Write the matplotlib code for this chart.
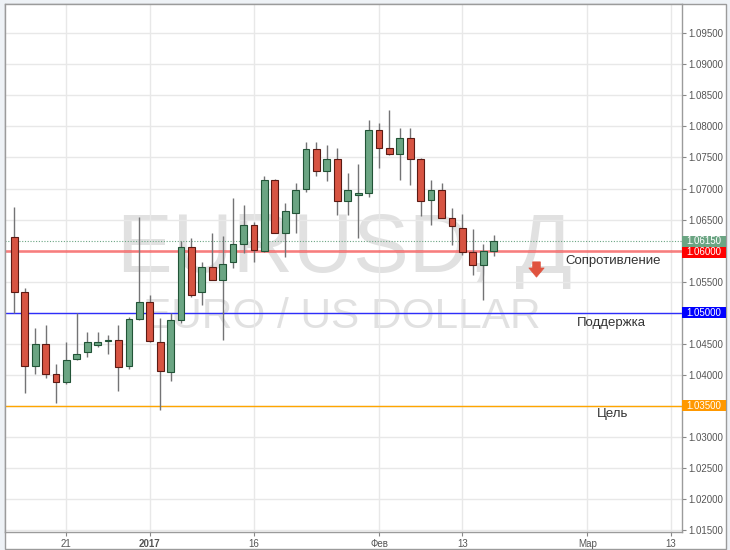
import numpy as np
import pandas as pd
import matplotlib
matplotlib.use("Agg")
import matplotlib.pyplot as plt
from matplotlib.patches import Rectangle
from matplotlib.path import Path
import matplotlib.transforms as mtransforms

plt.rcParams['font.family'] = ['Liberation Sans', 'DejaVu Sans']

# EURUSD daily candles, 14 Dec 2016 .. 16 Feb 2017
opens = [1.0622, 1.0533, 1.0414, 1.0449, 1.0402, 1.0388, 1.0425, 1.0436, 1.0448, 1.0454,
         1.0456, 1.0414, 1.0490, 1.0517, 1.0452, 1.0405, 1.0488, 1.0605, 1.0533, 1.0573,
         1.0552, 1.0581, 1.0611, 1.0642, 1.0600, 1.0713, 1.0629, 1.0661, 1.0700, 1.0763,
         1.0729, 1.0747, 1.0680, 1.0689, 1.0692, 1.0795, 1.0766, 1.0755, 1.0782, 1.0748,
         1.0681, 1.0697, 1.0653, 1.0637, 1.0597, 1.0577, 1.0600]
highs = [1.0670, 1.0539, 1.0475, 1.0480, 1.0418, 1.0452, 1.0499, 1.0469, 1.0469, 1.0464,
         1.0480, 1.0493, 1.0654, 1.0529, 1.0491, 1.0500, 1.0616, 1.0621, 1.0582, 1.0628,
         1.0623, 1.0685, 1.0673, 1.0646, 1.0720, 1.0716, 1.0677, 1.0709, 1.0775, 1.0775,
         1.0770, 1.0765, 1.0725, 1.0740, 1.0811, 1.0806, 1.0827, 1.0798, 1.0798, 1.0749,
         1.0713, 1.0709, 1.0668, 1.0659, 1.0634, 1.0610, 1.0625]
lows = [1.0499, 1.0370, 1.0402, 1.0394, 1.0355, 1.0385, 1.0424, 1.0429, 1.0444, 1.0434,
        1.0374, 1.0410, 1.0488, 1.0452, 1.0343, 1.0390, 1.0483, 1.0525, 1.0512, 1.0552,
        1.0456, 1.0572, 1.0596, 1.0582, 1.0598, 1.0628, 1.0590, 1.0628, 1.0695, 1.0720,
        1.0712, 1.0658, 1.0658, 1.0620, 1.0686, 1.0733, 1.0754, 1.0713, 1.0705, 1.0655,
        1.0641, 1.0652, 1.0609, 1.0593, 1.0560, 1.0521, 1.0592]
closes = [1.0533, 1.0414, 1.0449, 1.0402, 1.0389, 1.0424, 1.0434, 1.0453, 1.0453, 1.0456,
          1.0413, 1.0490, 1.0517, 1.0454, 1.0406, 1.0488, 1.0605, 1.0528, 1.0574, 1.0553,
          1.0579, 1.0611, 1.0642, 1.0601, 1.0713, 1.0629, 1.0664, 1.0698, 1.0763, 1.0729,
          1.0747, 1.0680, 1.0697, 1.0692, 1.0795, 1.0766, 1.0756, 1.0782, 1.0748, 1.0680,
          1.0697, 1.0653, 1.0640, 1.0597, 1.0577, 1.0600, 1.0615]

tick_dates = ['2016-12-21', '2017-01-02', '2017-01-16', '2017-02-01', '2017-02-13', '2017-03-01', '2017-03-13']
tick_labels = ['21', '2017', '16', 'Фев', '13', 'Мар', '13']

resistance = 1.0600
support = 1.0500
target = 1.0350
last_price = closes[-1]

up_fill, up_edge = '#6ba583', '#225437'
dn_fill, dn_edge = '#d75442', '#5b1a13'

days = pd.bdate_range('2016-12-14', '2017-03-13')
x = np.arange(len(opens))
o = np.array(opens); h = np.array(highs); l = np.array(lows); c = np.array(closes)
up = c >= o

fig = plt.figure(figsize=(7.3, 5.5), dpi=100, facecolor='#eef2f6')
fig.patches.append(Rectangle((5/730, 1-549/550), 721/730, 545/550, transform=fig.transFigure,
                             facecolor='white', edgecolor='#9b9b9b', lw=1, zorder=-10))
ax = fig.add_axes([5/730, 1-532/550, 676.7/730, 528/550])
ax.set_facecolor('white')

# watermark
ax.text(0.502, 0.492, 'EURUSD, Д', transform=ax.transAxes, ha='center', va='baseline',
        fontsize=60, color='#e1e1e1', zorder=0.5)
ax.text(0.498, 0.386, 'EURO / US DOLLAR', transform=ax.transAxes, ha='center', va='baseline',
        fontsize=30.5, color='#e1e1e1', zorder=0.5)

# levels
ax.axhline(resistance, color='#ff0000', alpha=0.45, lw=2, zorder=1.5)
ax.axhline(support, color='#0000ff', alpha=0.8, lw=1, zorder=1.5)
ax.axhline(target, color='#ffa500', lw=1, zorder=1.5)
ax.axhline(last_price, color=up_fill, lw=0.8, ls=(0, (1, 1.5)), zorder=1.5)

# candles
ax.vlines(x, l, h, color='#737375', lw=1, zorder=2)
body_h = np.maximum(np.abs(c - o), 0.00008)
ax.bar(x, body_h, bottom=np.minimum(o, c), width=0.65,
       color=np.where(up, up_fill, dn_fill), edgecolor=np.where(up, up_edge, dn_edge),
       lw=0.8, zorder=3)

# labels for levels
ax.text(57.45, 1.0584, 'Сопротивление', ha='center', va='center', fontsize=9.5, color='#333333')
ax.text(57.27, 1.0484, 'Поддержка', ha='center', va='center', fontsize=9.5, color='#333333')
ax.text(57.45, 1.0336, 'Цель', ha='center', va='center', fontsize=9.5, color='#333333')

arrow = Path([(-0.5, 1.0), (0.5, 1.0), (0.5, 0.2), (1.0, 0.2), (0.0, -1.0),
              (-1.0, 0.2), (-0.5, 0.2), (-0.5, 1.0)], closed=True)
ax.plot([50.07], [1.0570], marker=arrow, markersize=11, color='#e0533f', mec='#e0533f',
        mew=0.5, zorder=4)

# axes
ax.set_xlim(-0.89, 64.05)
ax.set_ylim(1.01467, 1.09972)
ax.yaxis.tick_right()
yt = np.arange(1.015, 1.0951, 0.005)
levels = [resistance, support, target]
ax.set_yticks(yt)
ax.set_yticklabels(['' if any(abs(v - lv) < 1e-6 for lv in levels) else '%.5f' % v for v in yt])
pos = [days.get_loc(pd.Timestamp(d)) for d in tick_dates]
ax.set_xticks(pos)
ax.set_xticklabels(tick_labels)
ax.get_xticklabels()[1].set_fontweight('bold')
ax.tick_params(axis='both', length=3, color='#888888', labelcolor='#555555', labelsize=7, pad=2)
ax.grid(True, color='#e8e8e8', lw=1, zorder=0)
ax.set_axisbelow(True)
for s in ax.spines.values():
    s.set_color('#9b9b9b')
    s.set_linewidth(1)

# price boxes on the right scale
tr = mtransforms.blended_transform_factory(ax.transAxes, ax.transData)
bh = 0.00175
boxes = [(last_price, last_price, '#6ba583'), (resistance, last_price - bh, '#ff0000'),
         (support, support, '#0000ff'), (target, target, '#ff9800')]
for val, ypos, col in boxes:
    ax.add_patch(Rectangle((1.0008, ypos - bh/2), 0.064, bh, transform=tr, facecolor=col,
                           edgecolor='none', clip_on=False, zorder=5))
    ax.text(1.0068, ypos, '%.5f' % val, transform=tr, ha='left', va='center', fontsize=7,
            color='white', zorder=6, clip_on=False)

fig.savefig('out.png', dpi=100, facecolor=fig.get_facecolor())
